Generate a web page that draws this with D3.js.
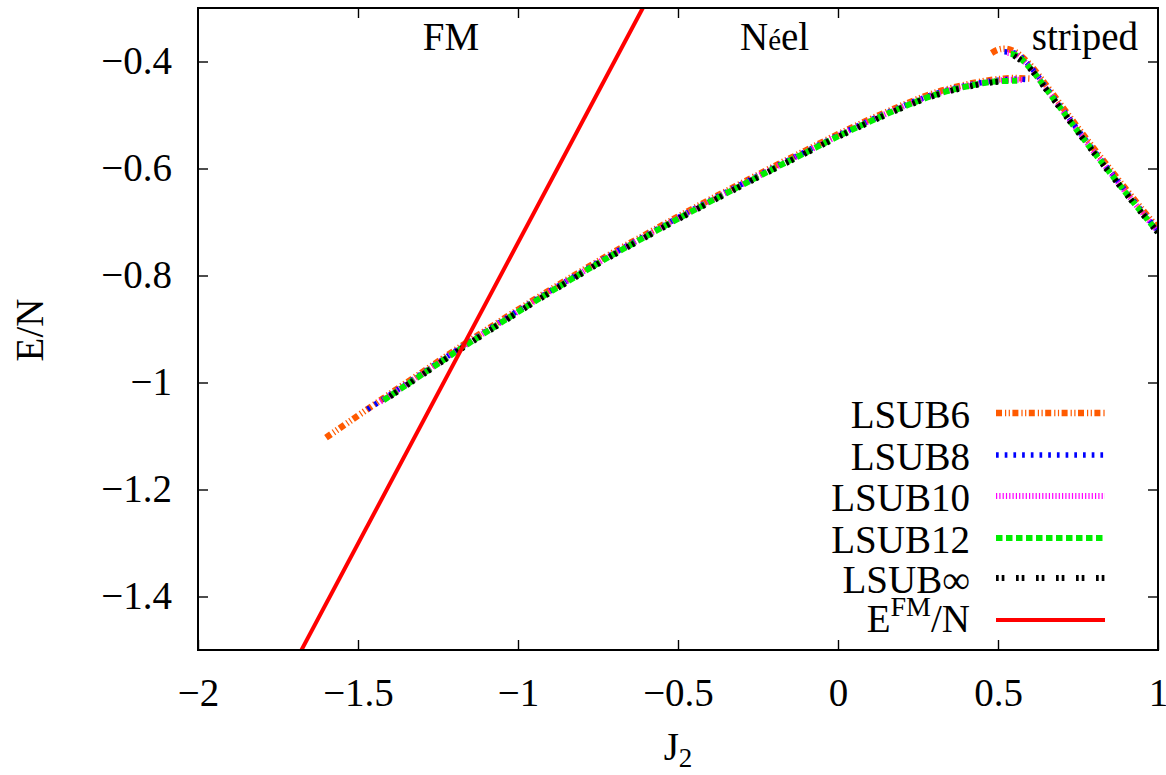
<!DOCTYPE html>
<html>
<head>
<meta charset="utf-8">
<script src="https://cdn.jsdelivr.net/npm/d3@7"></script>
<style>
  html, body { margin: 0; padding: 0; background: #fff; }
  svg { display: block; }
  text { font-family: "Liberation Serif", "Times New Roman", serif; fill: #000; }
</style>
</head>
<body>
<svg id="chart" width="1166" height="775"></svg>
<script>
// ---------------- data ----------------
const xTicks = [-2, -1.5, -1, -0.5, 0, 0.5, 1];
const xTickLabels = ["\u22122", "\u22121.5", "\u22121", "\u22120.5", "0", "0.5", "1"];
const yTicks = [-0.4, -0.6, -0.8, -1.0, -1.2, -1.4];
const yTickLabels = ["\u22120.4", "\u22120.6", "\u22120.8", "\u22121", "\u22121.2", "\u22121.4"];

const seriesNames = ["LSUB6", "LSUB8", "LSUB10", "LSUB12", "LSUB\u221E"];
const seriesColors = ["#ff5a00", "#0000ff", "#ff00ff", "#00ee00", "#000000"];

// Néel branch
const neelJ2_6   = [-1.6, -1.5, -1.4, -1.3, -1.2, -1.1, -1.0, -0.9, -0.8, -0.7, -0.6, -0.5, -0.4, -0.3, -0.2, -0.1, 0, 0.1, 0.2, 0.3, 0.4, 0.5, 0.55, 0.6];
const neelE_6    = [-1.103, -1.062, -1.021, -0.981, -0.941, -0.902, -0.864, -0.827, -0.791, -0.756, -0.723, -0.690, -0.658, -0.627, -0.596, -0.566, -0.536, -0.508, -0.482, -0.459, -0.443, -0.433, -0.431, -0.432];
const neelJ2_8   = [-1.47, -1.4, -1.3, -1.2, -1.1, -1.0, -0.9, -0.8, -0.7, -0.6, -0.5, -0.4, -0.3, -0.2, -0.1, 0, 0.1, 0.2, 0.3, 0.4, 0.5, 0.55, 0.6];
const neelE_8    = [-1.050, -1.023, -0.983, -0.943, -0.904, -0.866, -0.829, -0.793, -0.758, -0.725, -0.692, -0.660, -0.629, -0.598, -0.568, -0.538, -0.510, -0.484, -0.461, -0.445, -0.435, -0.433, -0.434];
const neelJ2_10  = [-1.43, -1.4, -1.3, -1.2, -1.1, -1.0, -0.9, -0.8, -0.7, -0.6, -0.5, -0.4, -0.3, -0.2, -0.1, 0, 0.1, 0.2, 0.3, 0.4, 0.5, 0.55, 0.58];
const neelE_10   = [-1.036, -1.024, -0.984, -0.944, -0.905, -0.867, -0.830, -0.794, -0.759, -0.726, -0.693, -0.661, -0.630, -0.599, -0.569, -0.539, -0.511, -0.485, -0.462, -0.446, -0.436, -0.434, -0.435];
const neelJ2_12  = [-1.42, -1.4, -1.3, -1.2, -1.1, -1.0, -0.9, -0.8, -0.7, -0.6, -0.5, -0.4, -0.3, -0.2, -0.1, 0, 0.1, 0.2, 0.3, 0.4, 0.5, 0.56];
const neelE_12   = [-1.033, -1.025, -0.985, -0.945, -0.906, -0.868, -0.831, -0.795, -0.760, -0.727, -0.694, -0.662, -0.631, -0.600, -0.570, -0.540, -0.512, -0.486, -0.463, -0.447, -0.437, -0.436];
const neelJ2_inf = [-1.40, -1.3, -1.2, -1.1, -1.0, -0.9, -0.8, -0.7, -0.6, -0.5, -0.4, -0.3, -0.2, -0.1, 0, 0.1, 0.2, 0.3, 0.4, 0.5, 0.53];
const neelE_inf  = [-1.026, -0.986, -0.946, -0.907, -0.869, -0.832, -0.796, -0.761, -0.728, -0.695, -0.663, -0.632, -0.601, -0.571, -0.541, -0.513, -0.487, -0.464, -0.448, -0.438, -0.437];

// striped branch
const stripJ2_6   = [0.48, 0.5, 0.52, 0.55, 0.6, 0.65, 0.7, 0.75, 0.8, 0.85, 0.9, 0.95, 1.0];
const stripE_6    = [-0.384, -0.378, -0.376, -0.381, -0.406, -0.444, -0.484, -0.524, -0.563, -0.601, -0.639, -0.676, -0.712];
const stripJ2_8   = [0.52, 0.55, 0.6, 0.65, 0.7, 0.75, 0.8, 0.85, 0.9, 0.95, 1.0];
const stripE_8    = [-0.382, -0.384, -0.409, -0.448, -0.488, -0.528, -0.567, -0.605, -0.643, -0.680, -0.716];
const stripJ2_10  = [0.53, 0.55, 0.6, 0.65, 0.7, 0.75, 0.8, 0.85, 0.9, 0.95, 1.0];
const stripE_10   = [-0.384, -0.386, -0.411, -0.450, -0.490, -0.530, -0.569, -0.607, -0.645, -0.682, -0.718];
const stripJ2_12  = [0.54, 0.55, 0.6, 0.65, 0.7, 0.75, 0.8, 0.85, 0.9, 0.95, 1.0];
const stripE_12   = [-0.386, -0.387, -0.412, -0.451, -0.491, -0.531, -0.570, -0.608, -0.646, -0.683, -0.719];
const stripJ2_inf = [0.55, 0.6, 0.65, 0.7, 0.75, 0.8, 0.85, 0.9, 0.95, 1.0];
const stripE_inf  = [-0.389, -0.413, -0.452, -0.492, -0.532, -0.571, -0.609, -0.647, -0.684, -0.720];

// ferromagnetic energy line
const fmJ2 = [-1.69, -0.61];
const fmE  = [-1.515, -0.30];

// region labels
const regionNames = ["FM", "N\u00E9el", "striped"];

// ---------------- drawing ----------------
const svg = d3.select("#chart");
const m = { left: 198, right: 1158, top: 8, bottom: 650 };

const x = d3.scaleLinear().domain([-2, 1]).range([m.left, m.right]);
const y = d3.scaleLinear().domain([-1.5, -0.3]).range([m.bottom, m.top]);

svg.append("defs").append("clipPath").attr("id", "clip")
  .append("rect").attr("x", m.left).attr("y", m.top)
  .attr("width", m.right - m.left).attr("height", m.bottom - m.top);

const fontSize = 39;

function styleAxis(g) {
  g.select(".domain").remove();
  g.selectAll(".tick line").attr("stroke", "#000").attr("stroke-width", 1.4);
  g.selectAll(".tick text").style("font-size", fontSize + "px")
    .style("font-family", "'Liberation Serif', serif").attr("fill", "#000");
}

svg.append("g").attr("transform", `translate(0,${m.bottom})`)
  .call(d3.axisBottom(x).tickValues(xTicks).tickSize(-10).tickPadding(28)
    .tickFormat((d, i) => xTickLabels[i]))
  .call(styleAxis);

svg.append("g").attr("transform", `translate(0,${m.top})`)
  .call(d3.axisTop(x).tickValues(xTicks.slice(1, -1)).tickSize(-10).tickFormat(""))
  .call(styleAxis);

svg.append("g").attr("transform", `translate(${m.left},0)`)
  .call(d3.axisLeft(y).tickValues(yTicks).tickSize(-10).tickPadding(26)
    .tickFormat((d, i) => yTickLabels[i]))
  .call(styleAxis);

svg.append("g").attr("transform", `translate(${m.right},0)`)
  .call(d3.axisRight(y).tickValues(yTicks).tickSize(-10).tickFormat(""))
  .call(styleAxis);

// series
const dashes = [
  "6,3,1.2,2.5,1.2,2.5",
  "2.7,6",
  "1.2,2.1",
  "6.5,3.5",
  "2.7,3,2.7,11.6"
];
const widths = [6.5, 5.5, 6, 6, 6];

const neelJ2s = [neelJ2_6, neelJ2_8, neelJ2_10, neelJ2_12, neelJ2_inf];
const neelEs  = [neelE_6, neelE_8, neelE_10, neelE_12, neelE_inf];
const stripJ2s = [stripJ2_6, stripJ2_8, stripJ2_10, stripJ2_12, stripJ2_inf];
const stripEs  = [stripE_6, stripE_8, stripE_10, stripE_12, stripE_inf];

const line = d3.line().x(d => x(d[0])).y(d => y(d[1])).curve(d3.curveMonotoneX);
const plot = svg.append("g").attr("clip-path", "url(#clip)");

seriesNames.forEach((name, i) => {
  const branches = [
    neelJ2s[i].map((v, k) => [v, neelEs[i][k]]),
    stripJ2s[i].map((v, k) => [v, stripEs[i][k]])
  ];
  branches.forEach(b => {
    plot.append("path").datum(b).attr("d", line)
      .attr("fill", "none").attr("stroke", seriesColors[i])
      .attr("stroke-width", widths[i]).attr("stroke-dasharray", dashes[i])
      .attr("stroke-linecap", "butt");
  });
});

plot.append("path").datum(fmJ2.map((v, k) => [v, fmE[k]]))
  .attr("d", d3.line().x(d => x(d[0])).y(d => y(d[1])))
  .attr("fill", "none").attr("stroke", "#ff0000").attr("stroke-width", 4);

// frame
svg.append("rect").attr("x", m.left).attr("y", m.top)
  .attr("width", m.right - m.left).attr("height", m.bottom - m.top)
  .attr("fill", "none").attr("stroke", "#000").attr("stroke-width", 2);

// region labels
svg.append("text").attr("x", 451).attr("y", 50).attr("text-anchor", "middle")
  .style("font-size", fontSize + "px").text(regionNames[0]);
const neel = svg.append("text").attr("x", 740).attr("y", 50).style("font-size", fontSize + "px");
neel.append("tspan").text("N");
neel.append("tspan").style("font-size", "29px").text("\u00E9");
neel.append("tspan").text("el");
svg.append("text").attr("x", 1138).attr("y", 50).attr("text-anchor", "end")
  .style("font-size", fontSize + "px").text(regionNames[2]);

// axis titles
const xl = svg.append("text").attr("x", 678).attr("y", 760).attr("text-anchor", "middle")
  .style("font-size", fontSize + "px");
xl.append("tspan").text("J");
xl.append("tspan").attr("dy", 7).style("font-size", "27px").text("2");

svg.append("text").attr("transform", "translate(43,330) rotate(-90)")
  .attr("text-anchor", "middle").style("font-size", fontSize + "px").text("E/N");

// legend
const legRows = [413, 455, 496, 538, 578, 620];
const legend = svg.append("g");
seriesNames.forEach((name, i) => {
  legend.append("text").attr("x", 970).attr("y", legRows[i] + 15)
    .attr("text-anchor", "end").style("font-size", fontSize + "px").text(name);
  legend.append("line").attr("x1", 996).attr("x2", 1105)
    .attr("y1", legRows[i]).attr("y2", legRows[i])
    .attr("stroke", seriesColors[i]).attr("stroke-width", widths[i])
    .attr("stroke-dasharray", dashes[i]);
});
const fmText = legend.append("text").attr("x", 970).attr("y", legRows[5] + 12)
  .attr("text-anchor", "end").style("font-size", fontSize + "px");
fmText.append("tspan").text("E");
fmText.append("tspan").attr("dy", -16).style("font-size", "28px").text("FM");
fmText.append("tspan").attr("dy", 16).text("/N");
legend.append("line").attr("x1", 996).attr("x2", 1105)
  .attr("y1", legRows[5]).attr("y2", legRows[5])
  .attr("stroke", "#ff0000").attr("stroke-width", 4);
</script>
</body>
</html>
